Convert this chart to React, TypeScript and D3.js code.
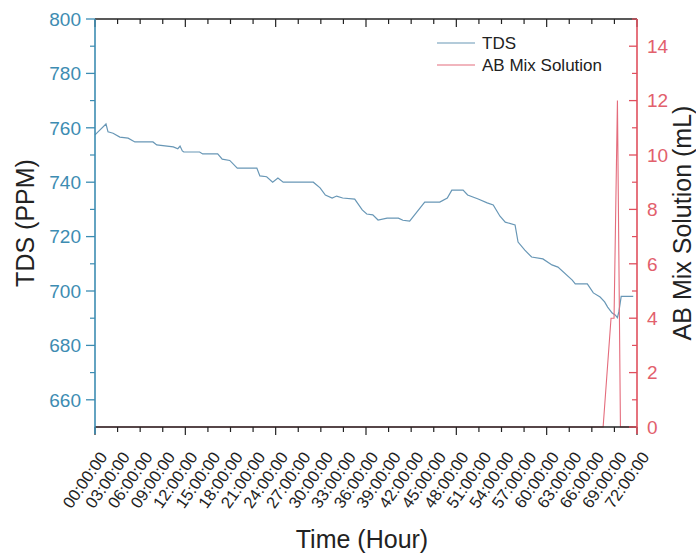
import React from 'react';
import * as d3 from 'd3';

// TDS readings (hour, ppm)
const tdsHours = [0, 0.4, 1.46, 1.73, 2.4, 3.3, 4.4, 5.3, 7.7, 8.2, 10.4, 11.0, 11.3, 11.6, 11.8, 13.9, 14.3, 16.3, 16.9, 17.9, 18.9, 21.5, 21.9, 22.8, 23.6, 24.3, 25.0, 29.0, 29.9, 30.6, 31.5, 32.1, 32.9, 34.5, 35.5, 36.1, 36.9, 37.6, 38.8, 40.3, 40.9, 41.8, 43.8, 45.8, 46.8, 47.4, 48.9, 49.5, 50.9, 52.1, 52.9, 53.8, 54.5, 55.8, 56.2, 57.1, 58.0, 59.5, 60.7, 61.5, 63.4, 63.8, 65.4, 66.2, 67.1, 67.7, 68.1, 68.7, 69.1, 69.4, 69.6, 69.9, 71.5];
const tdsValues = [757.4, 758.5, 761.4, 758.5, 758, 756.6, 756.2, 754.8, 754.8, 753.7, 753, 752.3, 753.3, 751.5, 751.1, 751.1, 750.4, 750.4, 748.5, 748, 745.2, 745.2, 742.3, 742, 740, 741.5, 740, 740, 737.9, 735.3, 734.2, 734.9, 734.2, 733.8, 729.8, 728.3, 728, 726.1, 726.8, 726.8, 726, 725.7, 732.7, 732.7, 734.2, 737.1, 737.1, 735.3, 733.8, 732.4, 731.6, 727.5, 725.3, 724.3, 718, 715, 712.5, 711.8, 709.6, 708.8, 704, 702.6, 702.6, 699.3, 697.8, 696, 694.1, 691.9, 691.2, 690.2, 692.5, 698, 698];

// AB mix additions (hour, mL)
const abHours = [0, 67.5, 68.55, 68.95, 69.4, 69.8, 71.5];
const abValues = [0, 0, 4, 4, 12, 0, 0];

const timeTicks = [0, 3, 6, 9, 12, 15, 18, 21, 24, 27, 30, 33, 36, 39, 42, 45, 48, 51, 54, 57, 60, 63, 66, 69, 72];
const timeLabels = ['00:00:00', '03:00:00', '06:00:00', '09:00:00', '12:00:00', '15:00:00', '18:00:00', '21:00:00', '24:00:00', '27:00:00', '30:00:00', '33:00:00', '36:00:00', '39:00:00', '42:00:00', '45:00:00', '48:00:00', '51:00:00', '54:00:00', '57:00:00', '60:00:00', '63:00:00', '66:00:00', '69:00:00', '72:00:00'];
const timeMajor = [0, 12, 24, 36, 48, 60, 72];
const tdsTicks = [660, 680, 700, 720, 740, 760, 780, 800];
const tdsMinor = [670, 690, 710, 730, 750, 770, 790];
const abTicks = [0, 2, 4, 6, 8, 10, 12, 14];
const abMinor = [1, 3, 5, 7, 9, 11, 13, 15];

const W = 696;
const H = 555;
const left = 95, right = 637, top = 19, bottom = 427;

const blue = '#3d8cb2';
const red = '#e0505e';
const font = 'Liberation Sans, Arial, sans-serif';

export default function App() {
  const x = d3.scaleLinear().domain([0, 72]).range([left, right]);
  const yL = d3.scaleLinear().domain([650, 800]).range([bottom, top]);
  const yR = d3.scaleLinear().domain([0, 15]).range([bottom, top]);

  const tdsLine = d3.line<number>()
    .x((_, i) => x(tdsHours[i]))
    .y((d) => yL(d));
  const abLine = d3.line<number>()
    .x((_, i) => x(abHours[i]))
    .y((d) => yR(d));

  const midY = (top + bottom) / 2;

  return (
    <svg width={W} height={H} style={{ position: 'absolute', left: 0, top: 0, background: '#fff' }} fontFamily={font}>
      <rect width={W} height={H} fill="#fff" />
      {/* series */}
      <path d={tdsLine(tdsValues) || ''} fill="none" stroke="#6897b6" strokeWidth={1.2} />
      <path d={abLine(abValues) || ''} fill="none" stroke="#e46c7c" strokeWidth={1.1} />

      {/* top axis */}
      <line x1={left} x2={right} y1={top} y2={top} stroke="#222" strokeWidth={1.5} />
      {timeTicks.map((t) => (
        <line key={'tt' + t} x1={x(t)} x2={x(t)} y1={top} y2={top + (timeMajor.includes(t) ? 8 : 5)} stroke="#222" strokeWidth={1.2} />
      ))}

      {/* bottom axis */}
      <line x1={left} x2={right} y1={bottom} y2={bottom} stroke="#222" strokeWidth={1.5} />
      {timeTicks.map((t) => (
        <line key={'bt' + t} x1={x(t)} x2={x(t)} y1={bottom} y2={bottom + (timeMajor.includes(t) ? 8 : 5)} stroke="#222" strokeWidth={1.2} />
      ))}
      {timeTicks.map((t, i) => (
        <text key={'bl' + t} transform={`translate(${x(t) + 13},${bottom + 30}) rotate(-55)`} textAnchor="end" fontSize={16.5} fill="#222">
          {timeLabels[i]}
        </text>
      ))}

      {/* left axis */}
      <line x1={left} x2={left} y1={top} y2={bottom + 7} stroke={blue} strokeWidth={1.6} />
      {tdsTicks.map((v) => (
        <g key={'lt' + v}>
          <line x1={left - 9} x2={left} y1={yL(v)} y2={yL(v)} stroke={blue} strokeWidth={1.3} />
          <text x={left - 14} y={yL(v)} dy="0.36em" textAnchor="end" fontSize={19} fill={blue}>{v}</text>
        </g>
      ))}
      {tdsMinor.map((v) => (
        <line key={'lm' + v} x1={left - 5} x2={left} y1={yL(v)} y2={yL(v)} stroke={blue} strokeWidth={1.2} />
      ))}

      {/* right axis */}
      <line x1={right} x2={right} y1={top} y2={bottom + 7} stroke={red} strokeWidth={1.6} />
      {abTicks.map((v) => (
        <g key={'rt' + v}>
          <line x1={right - 8} x2={right} y1={yR(v)} y2={yR(v)} stroke={red} strokeWidth={1.3} />
          <text x={right + 10} y={yR(v)} dy="0.36em" textAnchor="start" fontSize={19} fill="#e2606c">{v}</text>
        </g>
      ))}
      {abMinor.map((v) => (
        <line key={'rm' + v} x1={right - 5} x2={right} y1={yR(v)} y2={yR(v)} stroke={red} strokeWidth={1.2} />
      ))}

      {/* titles */}
      <text transform={`translate(34,${midY}) rotate(-90)`} textAnchor="middle" fontSize={25} fill="#222">TDS (PPM)</text>
      <text transform={`translate(691,${midY}) rotate(-90)`} textAnchor="middle" fontSize={25} fill="#222">AB Mix Solution (mL)</text>
      <text x={362} y={548} textAnchor="middle" fontSize={25} fill="#222">Time (Hour)</text>

      {/* legend */}
      <line x1={437} x2={475} y1={43} y2={43} stroke="#6897b6" strokeWidth={1.2} />
      <text x={482} y={49} fontSize={17} fill="#222">TDS</text>
      <line x1={437} x2={475} y1={65} y2={65} stroke="#e46c7c" strokeWidth={1.2} />
      <text x={482} y={71} fontSize={17} fill="#222">AB Mix Solution</text>
    </svg>
  );
}
